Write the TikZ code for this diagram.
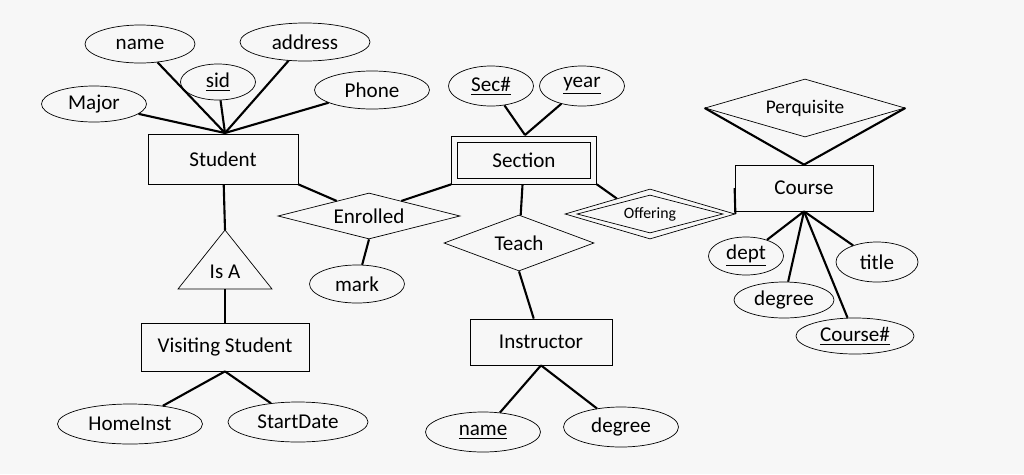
\documentclass[tikz,border=0pt]{standalone}
\usepackage{fontspec}
\setmainfont{Carlito}
\usetikzlibrary{shapes.geometric,calc}
\tikzset{
  attr/.style={draw,ellipse,thin,minimum width=#1*0.02cm,minimum height=38*0.02cm,inner sep=0pt,font=\fontsize{12}{14}\selectfont},
  attr/.default=100,
  ent/.style={draw,rectangle,thin,minimum height=46*0.02cm,font=\fontsize{12}{14}\selectfont},
  rel/.style={draw,diamond,thin,inner sep=0pt,font=\fontsize{12}{14}\selectfont},
  link/.style={line width=1.2pt}
}
\begin{document}
\begin{tikzpicture}[x=0.02cm,y=-0.02cm]
  \useasboundingbox[fill=gray!6] (0,0) rectangle (1024,474);
  % student side
  \node[attr=110] (name) at (140,44) {name};
  \node[attr=130] (address) at (305,42) {address};
  \node[attr=75,minimum height=36*0.02cm] (sid) at (218,82) {\underline{sid}};
  \node[attr=115] (phone) at (372,90) {Phone};
  \node[attr=105,minimum height=36*0.02cm] (major) at (94,104) {Major};
  \node[ent,minimum width=150*0.02cm,minimum height=50*0.02cm] (student) at (223,159) {Student};
  \coordinate (stop) at (225,133);
  \foreach \a in {name,address,sid,phone,major} \draw[link] (\a) -- (stop);
  % isa
  \coordinate (isatop) at (225,230);
  \draw[thin] (isatop) -- (178,289) -- (272,289) -- cycle;
  \node[font=\fontsize{12}{14}\selectfont] (isa) at (225,272) {Is A};
  \coordinate (isabot) at (225,289);
  \node[ent,minimum width=168*0.02cm,minimum height=48*0.02cm] (visit) at (225,347) {Visiting Student};
  \node[attr=145,minimum height=40*0.02cm] (home) at (130,424) {HomeInst};
  \node[attr=140,minimum height=40*0.02cm] (start) at (298,422) {StartDate};
  \draw[link] (student) -- (isatop);
  \draw[link] (isabot) -- (visit);
  \draw[link] (visit.south) -- (home);
  \draw[link] (visit.south) -- (start);
  % section
  \node[attr=85,minimum height=40*0.02cm] (sec) at (491,86) {\underline{Sec\#}};
  \node[attr=85,minimum height=40*0.02cm] (year) at (582,86) {\underline{year}};
  \node[ent,minimum width=145*0.02cm,minimum height=48*0.02cm] (section) at (524,160) {};
  \node[ent,minimum width=133*0.02cm,minimum height=36*0.02cm] at (524,160) {Section};
  \coordinate (sectop) at (525,135);
  \draw[link] (sec) -- (sectop);
  \draw[link] (year) -- (sectop);
  \node[rel,minimum width=182*0.02cm,minimum height=46*0.02cm,aspect=3.9] (enrolled) at (369,216) {Enrolled};
  \node[attr=95] (mark) at (357,284) {mark};
  \draw[link] (student.south east) -- (enrolled.155);
  \draw[link] (section.south west) -- (enrolled.25);
  \draw[link] (enrolled.south) -- (mark);
  \node[rel,minimum width=150*0.02cm,minimum height=56*0.02cm,aspect=2.7] (teach) at (519,243) {Teach};
  \node[ent,minimum width=142*0.02cm] (instr) at (541,342) {Instructor};
  \node[attr=115,minimum height=40*0.02cm] (iname) at (483,432) {\underline{name}};
  \node[attr=115,minimum height=40*0.02cm] (ideg) at (621,427) {degree};
  \draw[link] (section) -- (teach);
  \draw[link] (teach.south) -- (instr);
  \draw[link] (instr.south) -- (iname);
  \draw[link] (instr.south) -- (ideg);
  % course
  \node[rel,minimum width=170*0.02cm,minimum height=50*0.02cm,aspect=3.4] (offer) at (650,214) {};
  \node[rel,minimum width=146*0.02cm,minimum height=38*0.02cm,aspect=3.8,font=\fontsize{9}{11}\selectfont] at (650,214) {Offering};
  \node[ent,minimum width=138*0.02cm] (course) at (804,188) {Course};
  \node[rel,minimum width=200*0.02cm,minimum height=58*0.02cm,aspect=3.4,font=\fontsize{11}{13}\selectfont] (perq) at (805,108) {Perquisite};
  \draw[link] (section.south east) -- (offer.155);
  \draw[link] (offer.east) -- (course.west);
  \draw[link] (perq.west) -- (course.north);
  \draw[link] (perq.east) -- (course.north);
  \node[attr=75] (dept) at (746,256) {\underline{dept}};
  \node[attr=82,minimum height=40*0.02cm] (title) at (877,262) {title};
  \node[attr=100,minimum height=36*0.02cm] (cdeg) at (784,300) {degree};
  \node[attr=118,minimum height=36*0.02cm] (cnum) at (855,336) {\underline{Course\#}};
  \foreach \a in {dept,title,cdeg,cnum} \draw[link] (course.south) -- (\a);
\end{tikzpicture}
\end{document}
